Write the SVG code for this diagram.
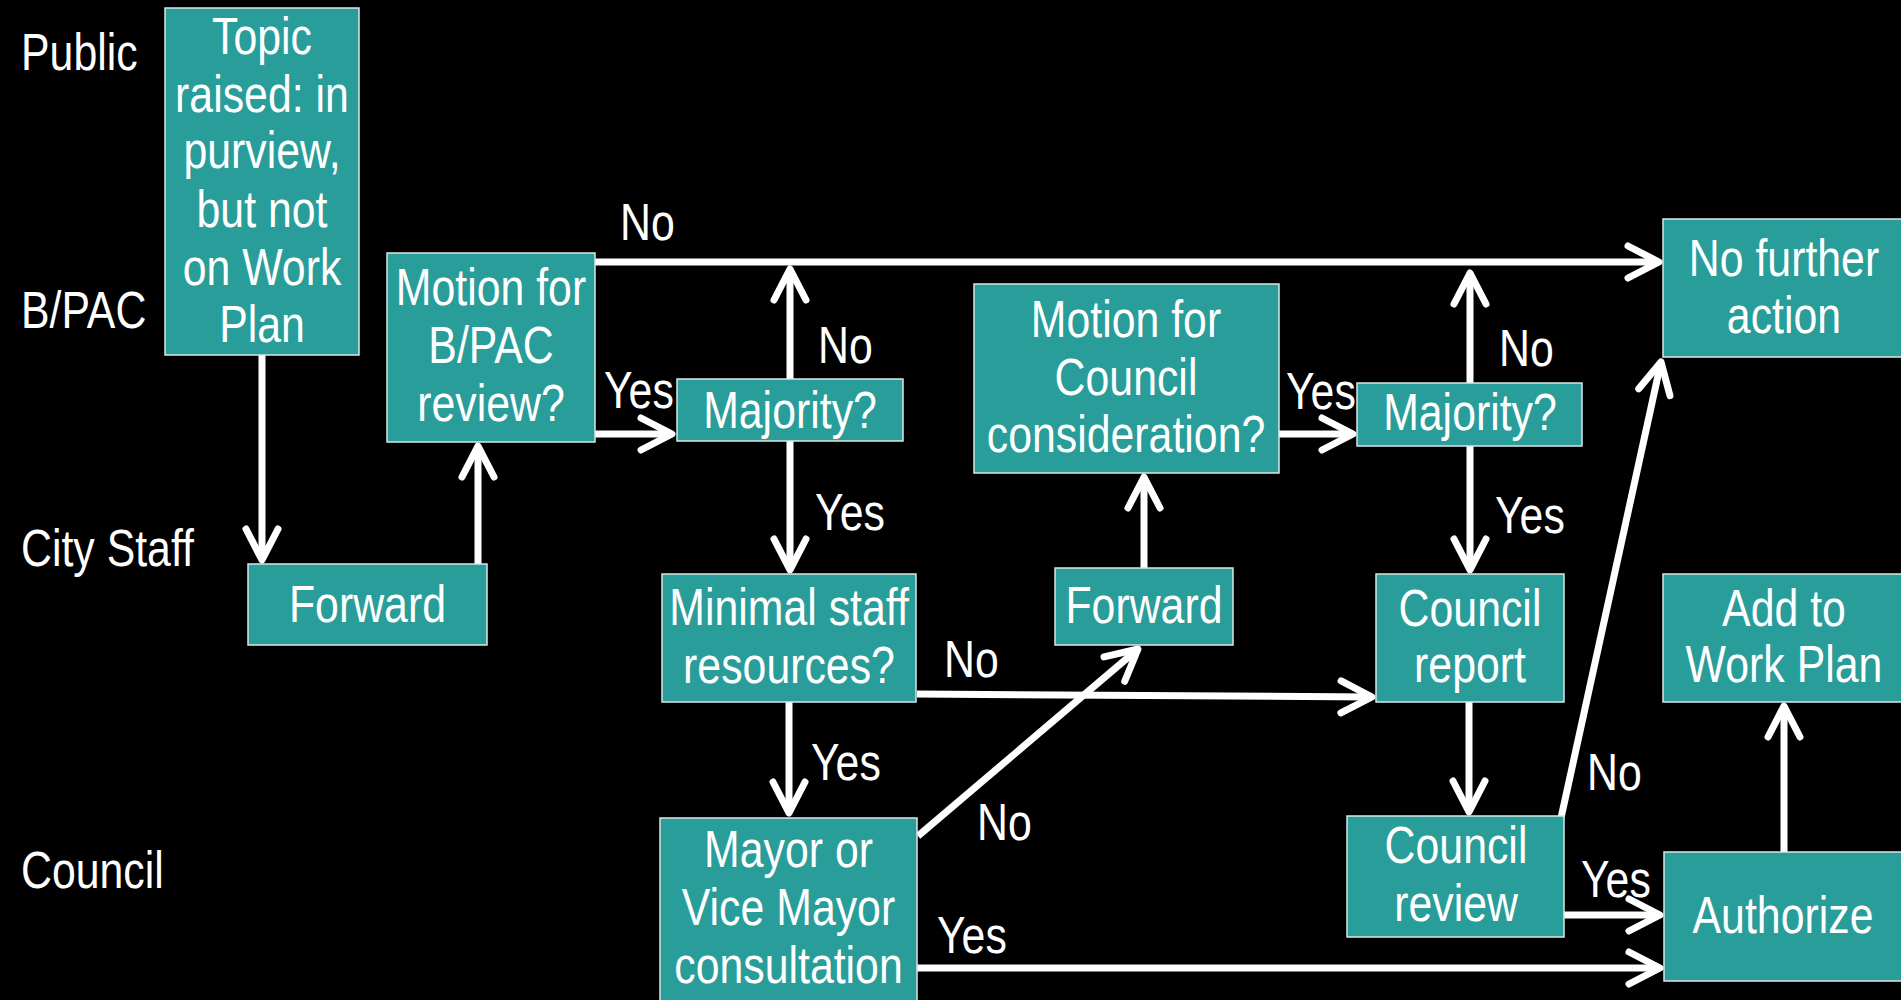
<svg xmlns="http://www.w3.org/2000/svg" width="1901" height="1000" viewBox="0 0 1901 1000">
<style>
.bg{fill:#000}
.box{fill:#299d99;stroke:#d8e8e7;stroke-width:1.5}
text{font-family:"Liberation Sans",Arial,sans-serif;font-size:51px;fill:#fff}
.c{text-anchor:middle;transform-box:fill-box;transform-origin:50% 50%;transform:scaleX(0.84)}
.l{text-anchor:start;transform-box:fill-box;transform-origin:0% 50%;transform:scaleX(0.84)}
.conn path{fill:none;stroke:#fff;stroke-width:7;marker-end:url(#ah)}
</style>
<defs>
<marker id="ah" markerUnits="userSpaceOnUse" viewBox="-40 -22 46 44" markerWidth="46" markerHeight="44" refX="0" refY="0" orient="auto" overflow="visible">
<path d="M -31 -16 L 0 0 L -31 16" fill="none" stroke="#fff" stroke-width="7" stroke-linecap="round" stroke-linejoin="round"/>
</marker>
</defs>
<rect class="bg" x="0" y="0" width="1901" height="1000"/>
<g id="lanes">
<text class="l" x="21" y="70">Public</text>
<text class="l" x="21" y="328">B/PAC</text>
<text class="l" x="21" y="566">City Staff</text>
<text class="l" x="21" y="888">Council</text>
</g>
<g class="conn" id="connectors">
<path d="M 262 355 L 262 560"/>
<path d="M 478 564 L 478 446"/>
<path d="M 595 434 L 672 434"/>
<path d="M 595 262 L 1659 262"/>
<path d="M 790 379 L 790 269"/>
<path d="M 790 441 L 790 570"/>
<path d="M 789 702 L 789 813"/>
<path d="M 917 694 L 1372 697"/>
<path d="M 918 836 L 1138 649"/>
<path d="M 1144 568 L 1144 477"/>
<path d="M 1279 434 L 1353 434"/>
<path d="M 1470 383 L 1470 273"/>
<path d="M 1470 446 L 1470 570"/>
<path d="M 1469 702 L 1469 812"/>
<path d="M 1561 818 L 1661 362"/>
<path d="M 1564 915 L 1660 915"/>
<path d="M 917 968 L 1660 968"/>
<path d="M 1784 852 L 1784 706"/>
</g>
<g id="edge-labels">
<text class="l" x="620" y="240">No</text>
<text class="l" x="604" y="408">Yes</text>
<text class="l" x="818" y="363">No</text>
<text class="l" x="815" y="530">Yes</text>
<text class="l" x="944" y="677">No</text>
<text class="l" x="811" y="780">Yes</text>
<text class="l" x="977" y="840">No</text>
<text class="l" x="937" y="953">Yes</text>
<text class="l" x="1286" y="409">Yes</text>
<text class="l" x="1499" y="366">No</text>
<text class="l" x="1495" y="533">Yes</text>
<text class="l" x="1587" y="790">No</text>
<text class="l" x="1581" y="897">Yes</text>
</g>
<g id="n-topic">
<rect class="box" x="165" y="8" width="194" height="347"/>
<text class="c" x="262" y="54">Topic</text>
<text class="c" x="262" y="112">raised: in</text>
<text class="c" x="262" y="168">purview,</text>
<text class="c" x="262" y="227">but not</text>
<text class="c" x="262" y="285">on Work</text>
<text class="c" x="262" y="342">Plan</text>
</g>
<g id="n-motion-bpac">
<rect class="box" x="387" y="253" width="208" height="189"/>
<text class="c" x="491" y="305">Motion for</text>
<text class="c" x="491" y="363">B/PAC</text>
<text class="c" x="491" y="421">review?</text>
</g>
<g id="n-forward-staff">
<rect class="box" x="248" y="564" width="239" height="81"/>
<text class="c" x="367.5" y="622">Forward</text>
</g>
<g id="n-majority-1">
<rect class="box" x="677" y="379" width="226" height="62"/>
<text class="c" x="790" y="428">Majority?</text>
</g>
<g id="n-minimal">
<rect class="box" x="662" y="574" width="254" height="128"/>
<text class="c" x="789" y="625">Minimal staff</text>
<text class="c" x="789" y="683">resources?</text>
</g>
<g id="n-mayor">
<rect class="box" x="660" y="818" width="257" height="190"/>
<text class="c" x="788.5" y="867">Mayor or</text>
<text class="c" x="788.5" y="925">Vice Mayor</text>
<text class="c" x="788.5" y="983">consultation</text>
</g>
<g id="n-forward-2">
<rect class="box" x="1055" y="568" width="178" height="77"/>
<text class="c" x="1144" y="623">Forward</text>
</g>
<g id="n-motion-council">
<rect class="box" x="974" y="284" width="305" height="189"/>
<text class="c" x="1126" y="337">Motion for</text>
<text class="c" x="1126" y="395">Council</text>
<text class="c" x="1126" y="452">consideration?</text>
</g>
<g id="n-majority-2">
<rect class="box" x="1357" y="383" width="225" height="63"/>
<text class="c" x="1470" y="430">Majority?</text>
</g>
<g id="n-council-report">
<rect class="box" x="1376" y="574" width="188" height="128"/>
<text class="c" x="1470" y="626">Council</text>
<text class="c" x="1470" y="682">report</text>
</g>
<g id="n-council-review">
<rect class="box" x="1347" y="816" width="217" height="121"/>
<text class="c" x="1456" y="863">Council</text>
<text class="c" x="1456" y="921">review</text>
</g>
<g id="n-no-further">
<rect class="box" x="1663" y="219" width="245" height="138"/>
<text class="c" x="1784" y="276">No further</text>
<text class="c" x="1784" y="333">action</text>
</g>
<g id="n-add-workplan">
<rect class="box" x="1663" y="574" width="245" height="128"/>
<text class="c" x="1784" y="626">Add to</text>
<text class="c" x="1784" y="682">Work Plan</text>
</g>
<g id="n-authorize">
<rect class="box" x="1664" y="852" width="244" height="129"/>
<text class="c" x="1783" y="933">Authorize</text>
</g>
</svg>
